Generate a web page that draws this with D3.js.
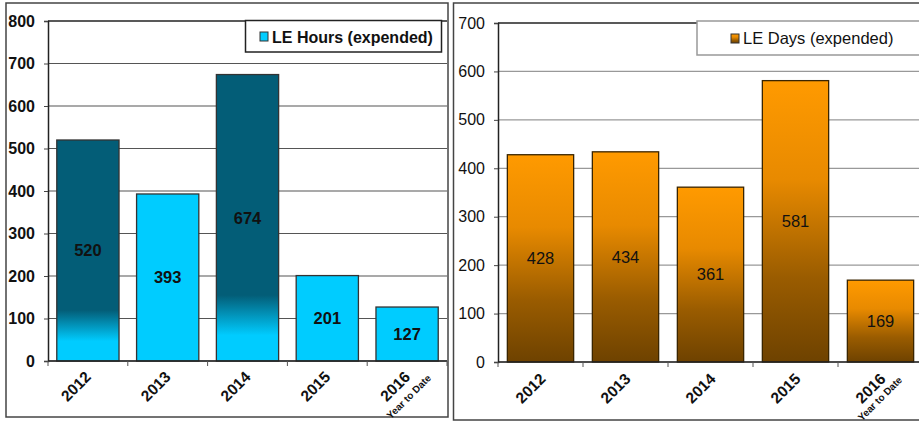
<!DOCTYPE html>
<html><head><meta charset="utf-8">
<script src="https://cdn.jsdelivr.net/npm/d3@7"></script>
<style>body{margin:0;background:#fff}svg{display:block;font-family:Arial,"Liberation Sans",sans-serif}</style>
</head><body>
<svg id="c" width="919" height="425"></svg>
<script>
const categories = ["2012","2013","2014","2015","2016"];
const subLabels = ["","","","","Year to Date"];
const hoursValues = [520,393,674,201,127];
const daysValues = [428,434,361,581,169];
const hoursTicks = [0,100,200,300,400,500,600,700,800];
const daysTicks = [0,100,200,300,400,500,600,700];
const hoursShaded = ["2012","2014"];
const hoursLegend = "LE Hours (expended)";
const daysLegend = "LE Days (expended)";

const svg = d3.select("#c");
const defs = svg.append("defs");
const g1 = defs.append("linearGradient").attr("id","tealGrad").attr("x1",0).attr("y1",0).attr("x2",0).attr("y2",1);
g1.append("stop").attr("offset",0).attr("stop-color","#035d77");
g1.append("stop").attr("offset",0.77).attr("stop-color","#035d77");
g1.append("stop").attr("offset",0.91).attr("stop-color","#00ccff");
g1.append("stop").attr("offset",1).attr("stop-color","#00ccff");
const g2 = defs.append("linearGradient").attr("id","orGrad").attr("x1",0).attr("y1",0).attr("x2",0).attr("y2",1);
g2.append("stop").attr("offset",0).attr("stop-color","#ff9a00");
g2.append("stop").attr("offset",0.35).attr("stop-color","#e88a00");
g2.append("stop").attr("offset",0.7).attr("stop-color","#9a5c00");
g2.append("stop").attr("offset",1).attr("stop-color","#6e4200");

function drawChart(opt){
  const g = svg.append("g");
  g.append("rect").attr("x",opt.frame[0]).attr("y",opt.frame[1]).attr("width",opt.frame[2]).attr("height",opt.frame[3])
    .attr("fill","#fff").attr("stroke","#444").attr("stroke-width",1.5);
  const x = d3.scaleBand().domain(categories).range(opt.xr).paddingInner(0.22).paddingOuter(0.11);
  const y = d3.scaleLinear().domain([0, opt.max]).range(opt.yr);
  g.selectAll(".grid").data(opt.ticks).join("line")
    .attr("x1",opt.xr[0]).attr("x2",opt.xr[1]).attr("y1",d=>y(d)).attr("y2",d=>y(d))
    .attr("stroke",d=>d===opt.max?"#222":opt.gridColor).attr("stroke-width",d=>d===opt.max?1.5:1.2);
  const ya = d3.axisLeft(y).tickValues(opt.ticks).tickSize(4).tickPadding(9);
  const yg = g.append("g").attr("transform",`translate(${opt.xr[0]},0)`).call(ya);
  yg.select(".domain").attr("stroke","#222").attr("stroke-width",1.5);
  yg.selectAll(".tick line").attr("stroke","#444");
  yg.selectAll("text").attr("font-size",16).attr("font-weight",opt.yBold?"bold":"normal").attr("fill","#111")
    .attr("font-family","Arial,'Liberation Sans',sans-serif");
  g.selectAll(".bar").data(categories).join("rect")
    .attr("x",d=>x(d)).attr("width",x.bandwidth())
    .attr("y",(d,i)=>y(opt.values[i])).attr("height",(d,i)=>y(0)-y(opt.values[i]))
    .attr("fill",opt.fill).attr("stroke",opt.barStroke).attr("stroke-width",1.3);
  g.append("line").attr("x1",opt.xr[0]).attr("x2",opt.xr[1]).attr("y1",y(0)).attr("y2",y(0)).attr("stroke","#222").attr("stroke-width",1.5);
  const step = x.step();
  g.selectAll(".xt").data(d3.range(categories.length+1)).join("line")
    .attr("x1",i=>opt.xr[0]+i*step).attr("x2",i=>opt.xr[0]+i*step).attr("y1",y(0)).attr("y2",y(0)+5)
    .attr("stroke","#555").attr("stroke-width",1);
  g.selectAll(".vl").data(categories).join("text")
    .attr("x",d=>x(d)+x.bandwidth()/2)
    .attr("y",(d,i)=>(y(opt.values[i])+y(0))/2)
    .attr("dy","0.35em").attr("text-anchor","middle")
    .attr("font-size",16.5).attr("font-weight",opt.labelBold?"bold":"normal").attr("fill","#111")
    .text((d,i)=>opt.values[i]);
  const xl = g.selectAll(".xl").data(categories).join("g")
    .attr("transform",d=>`translate(${x(d)+x.bandwidth()/2+opt.lx},${y(0)+opt.ly}) rotate(-45)`);
  xl.append("text").attr("text-anchor","end").attr("font-size",15.5).attr("font-weight","bold").attr("fill","#111").text(d=>d);
  xl.append("text").attr("text-anchor","end").attr("x",opt.sx).attr("y",opt.sy)
    .attr("font-size",10).attr("font-weight","bold").attr("fill","#111").text((d,i)=>subLabels[i]);
  const L = opt.legend;
  g.append("rect").attr("x",L.x).attr("y",L.y).attr("width",L.w).attr("height",L.h)
    .attr("fill","#fff").attr("stroke",L.stroke).attr("stroke-width",1.5);
  g.append("rect").attr("x",L.sx).attr("y",L.sy).attr("width",8).attr("height",9)
    .attr("fill",opt.legendFill).attr("stroke","#333").attr("stroke-width",1);
  g.append("text").attr("x",L.tx).attr("y",L.ty).attr("font-size",L.fs).attr("font-weight",L.bold?"bold":"normal")
    .attr("fill","#111").text(L.text);
}

drawChart({
  frame:[6,3,442,414], xr:[48,447], yr:[361,21], max:800, ticks:hoursTicks, values:hoursValues,
  gridColor:"#555", yBold:true, labelBold:true,
  fill:d=>hoursShaded.includes(d)?"url(#tealGrad)":"#00ccff", barStroke:"#333",
  lx:4, ly:17, sx:14, sy:15,
  legend:{x:245.5,y:20.5,w:196,h:31.5,stroke:"#222",sx:260,sy:32,tx:272,ty:42.5,bold:true,fs:16,text:hoursLegend},
  legendFill:"#00ccff"
});
drawChart({
  frame:[453.5,3,480,417], xr:[498,923], yr:[362,23], max:700, ticks:daysTicks, values:daysValues,
  gridColor:"#999", yBold:false, labelBold:false,
  fill:()=>"url(#orGrad)", barStroke:"#3a2500",
  lx:6, ly:18, sx:11, sy:12,
  legend:{x:697,y:21,w:240,h:34,stroke:"#999",sx:731,sy:34,tx:743,ty:44,bold:false,fs:16.5,text:daysLegend},
  legendFill:"url(#orGrad)"
});
</script>
</body></html>
